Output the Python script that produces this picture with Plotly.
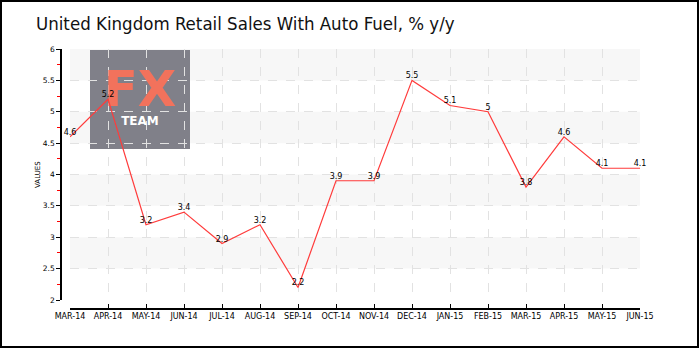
import plotly.graph_objects as go

# Monthly UK retail sales incl. auto fuel, % y/y
months = ["MAR-14", "APR-14", "MAY-14", "JUN-14", "JUL-14", "AUG-14", "SEP-14",
          "OCT-14", "NOV-14", "DEC-14", "JAN-15", "FEB-15", "MAR-15", "APR-15",
          "MAY-15", "JUN-15"]
values = [4.6, 5.2, 3.2, 3.4, 2.9, 3.2, 2.2, 3.9, 3.9, 5.5, 5.1, 5.0, 3.8, 4.6, 4.1, 4.1]
labels = ["4.6", "5.2", "3.2", "3.4", "2.9", "3.2", "2.2", "3.9", "3.9", "5.5",
          "5.1", "5", "3.8", "4.6", "4.1", "4.1"]

y_min, y_max = 2, 6
y_major = [2, 2.5, 3, 3.5, 4, 4.5, 5, 5.5, 6]
y_major_text = ["2", "2.5", "3", "3.5", "4", "4.5", "5", "5.5", "6"]
y_minor = [2.25, 2.75, 3.25, 3.75, 4.25, 4.75, 5.25, 5.75]
band_starts = [2.5, 3.5, 4.5, 5.5]

W, H = 700, 350
x_dom = [70 / W, 640 / W]
y_dom = [1 - 300 / H, 1 - 49 / H]
x_idx = list(range(len(months)))

# helpers: pixel position -> axis coordinates (for the watermark placement)
def px_to_x(px):
    return (px - 70) / (640 - 70) * (len(months) - 1)

def py_to_y(py):
    return y_max - (py - 49) / (300 - 49) * (y_max - y_min)

fig = go.Figure()

# watermark lettering, drawn beneath the data line
fig.add_trace(go.Scatter(
    x=[px_to_x(140), px_to_x(140)], y=[py_to_y(93), py_to_y(122)],
    mode="text", text=["<b>FX</b>", "<b>TEAM</b>"],
    textposition="middle center",
    textfont=dict(family="DejaVu Sans", size=[50, 12], color=["#f2725c", "#ffffff"]),
    hoverinfo="skip", showlegend=False,
))

fig.add_trace(go.Scatter(
    x=x_idx, y=values, mode="lines+text", text=labels,
    textposition="top center",
    textfont=dict(family="DejaVu Sans", size=8, color="#000000"),
    line=dict(color="#ff3b3b", width=1.2),
    hoverinfo="skip", showlegend=False, cliponaxis=False,
))

shapes = []
# alternating light bands
for b in band_starts:
    shapes.append(dict(type="rect", xref="x domain", yref="y", x0=0, x1=1,
                       y0=b, y1=b + 0.5, fillcolor="#f7f7f7", line_width=0,
                       layer="below"))
# watermark box
shapes.append(dict(type="rect", xref="paper", yref="paper",
                   x0=90 / W, x1=190 / W, y0=1 - 149 / H, y1=1 - 50 / H,
                   fillcolor="rgba(118,118,128,0.93)", line_width=0,
                   layer="between"))
# outer frame
shapes.append(dict(type="rect", xref="paper", yref="paper",
                   x0=1 / W, x1=698 / W, y0=1 - 347 / H, y1=1 - 1 / H,
                   line=dict(color="#000000", width=2), fillcolor="rgba(0,0,0,0)",
                   layer="above"))

annotations = [
    dict(text="United Kingdom Retail Sales With Auto Fuel, % y/y",
         xref="paper", yref="paper", x=34 / W, y=1 - 23 / H,
         xanchor="left", yanchor="middle", showarrow=False,
         font=dict(family="DejaVu Sans Condensed, Liberation Sans Narrow, sans-serif",
                   size=18.5, color="#111111")),
    dict(text="VALUES", xref="paper", yref="paper", x=38 / W, y=1 - 175 / H,
         xanchor="center", yanchor="middle", showarrow=False, textangle=-90,
         font=dict(family="DejaVu Sans, sans-serif", size=7, color="#000000")),
]

fig.update_layout(
    width=W, height=H, autosize=False,
    margin=dict(l=0, r=0, t=0, b=0, pad=0, autoexpand=False),
    paper_bgcolor="#ffffff", plot_bgcolor="#ffffff",
    shapes=shapes, annotations=annotations,
    xaxis=dict(
        range=[0, len(months) - 1], domain=x_dom,
        tickmode="array", tickvals=x_idx, ticktext=months,
        anchor="free", position=1 - 309 / H,
        showline=True, linecolor="#000000", linewidth=1.5,
        ticks="inside", ticklen=4, tickcolor="#000000", tickwidth=1,
        showgrid=True, gridcolor="#e2e2e2", griddash="dash", gridwidth=1,
        tickfont=dict(family="DejaVu Sans", size=8, color="#000000"),
        zeroline=False, fixedrange=True, automargin=False,
    ),
    yaxis=dict(
        range=[y_min, y_max], domain=y_dom,
        anchor="free", position=61 / W,
        tickmode="array", tickvals=y_major, ticktext=y_major_text,
        showline=True, linecolor="#000000", linewidth=1.5,
        ticks="outside", ticklen=4, tickcolor="#000000", tickwidth=1,
        showgrid=True, gridcolor="#e2e2e2", griddash="dash", gridwidth=1,
        minor=dict(tickmode="array", tickvals=y_minor, ticks="outside",
                   ticklen=3, tickcolor="#ff0000", tickwidth=1, showgrid=False),
        tickfont=dict(family="DejaVu Sans", size=7.5, color="#000000"),
        zeroline=False, fixedrange=True, automargin=False,
    ),
)

fig.write_html("out.html")
